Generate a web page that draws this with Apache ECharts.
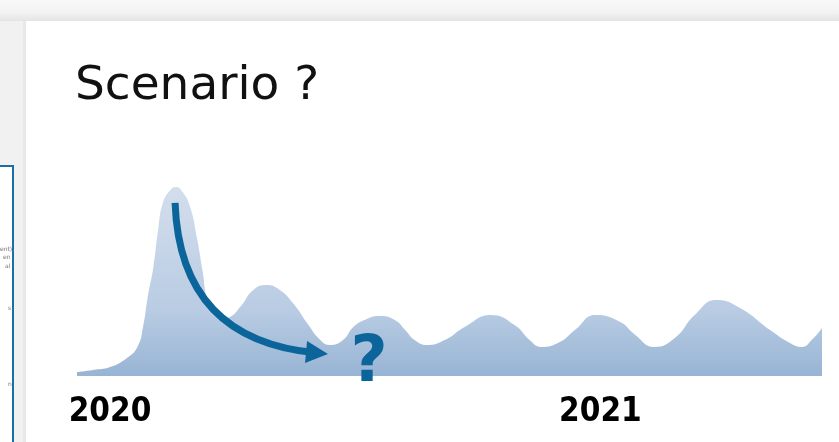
<!DOCTYPE html>
<html>
<head>
<meta charset="utf-8">
<script src="https://cdn.jsdelivr.net/npm/echarts@6/dist/echarts.min.js"></script>
<style>
html,body{margin:0;padding:0;background:#f1f1f1;}
#c{width:839px;height:442px;}
</style>
</head>
<body>
<div id="c"></div>
<script>
// x: weeks since start of chart, y: relative level (0-100)
var weeks = [0.0,1.7,3.5,5.3,6.4,7.0,7.5,8.1,8.6,9.1,9.9,10.5,11.2,12.0,12.7,13.3,13.8,14.4,15.5,16.2,17.3,18.7,20.1,21.5,22.9,24.4,25.8,26.8,28.2,29.3,30.5,32.0,33.7,34.8,35.8,37.1,39.0,41.1,43.9,46.4,48.0,49.2,51.2,52.8,55.0,57.6,59.2,61.2,63.4,65.5,67.8,70.3,73.5,75.6,76.9,77.9,79.0];
var level = [2.1,3.2,4.7,9.5,15.3,25.8,41.6,57.4,76.8,91.1,97.9,99.5,96.8,88.9,73.2,55.8,40.0,33.2,30.5,31.1,36.3,45.3,47.9,45.3,38.4,27.9,18.9,16.3,18.9,25.8,29.5,31.6,29.5,24.2,18.9,16.3,18.9,25.8,32.1,26.8,18.9,15.3,17.9,24.2,32.1,28.4,21.6,15.3,20.0,32.1,40.0,35.8,24.2,17.4,15.3,18.9,25.3];
var yearLabels = ['2020','2021'];
var yearWeeks = [3.5,55.5];
var arrowFrom = [10.4, 91.1];
var arrowTo = [25.45, 12.1];
var titleText = 'Scenario ?';
var questionText = '?';

var points = weeks.map(function(w,i){return [w, level[i]];});
var chart = echarts.init(document.getElementById('c'), null, {renderer:'canvas'});
var blue = '#0b659a';
var option = {
  animation:false,
  backgroundColor:'#f1f1f1',
  grid:{left:77,right:17,top:186,bottom:66,containLabel:false},
  xAxis:{type:'value',min:0,max:79,
    axisLine:{show:false},axisTick:{show:false},splitLine:{show:false},
    axisLabel:{customValues:yearWeeks,margin:20,
      fontFamily:'"DejaVu Sans Condensed","DejaVu Sans",sans-serif',fontWeight:'bold',fontSize:33,color:'#000',
      formatter:function(v){var i=yearWeeks.indexOf(v);return i>=0?yearLabels[i]:'';}}},
  yAxis:{type:'value',min:0,max:100,show:false},
  graphic:[
    {type:'rect',z:-10,shape:{x:0,y:0,width:839,height:442},style:{fill:'#f1f1f1'}},
    {type:'rect',z:-9,shape:{x:0,y:0,width:839,height:21},style:{fill:new echarts.graphic.LinearGradient(0,0,0,1,[{offset:0,color:'#f9f9f9'},{offset:0.6,color:'#f2f2f2'},{offset:1,color:'#e4e4e4'}])}},
    {type:'rect',z:-8,shape:{x:26,y:21,width:820,height:430},style:{fill:'#ffffff'}},
    {type:'rect',z:-8,shape:{x:23,y:21,width:3,height:430},style:{fill:'#e8e8e8'}},
    {type:'rect',z:-7,shape:{x:-10,y:166,width:23,height:300},style:{fill:'#ffffff',stroke:'#1b6ea6',lineWidth:2}},
    {type:'text',z:-6,x:0,y:246,style:{text:'ent),',font:'6px "DejaVu Sans"',fill:'#777'}},
    {type:'text',z:-6,x:3,y:254,style:{text:'en',font:'6px "DejaVu Sans"',fill:'#777'}},
    {type:'text',z:-6,x:5,y:263,style:{text:'al',font:'6px "DejaVu Sans"',fill:'#777'}},
    {type:'text',z:-6,x:8,y:305,style:{text:'s',font:'6px "DejaVu Sans"',fill:'#777'}},
    {type:'text',z:-6,x:8,y:381,style:{text:'n',font:'6px "DejaVu Sans"',fill:'#777'}},
    {type:'text',z:10,x:75,y:63,style:{text:titleText,font:'47px "DejaVu Sans"',fill:'#111',textVerticalAlign:'top'}},
    {type:'text',z:100,x:369,y:332,style:{text:questionText,font:'bold 64px "DejaVu Sans"',fill:blue,textAlign:'center',textVerticalAlign:'top'}}
  ],
  series:[
    {type:'line',data:points,smooth:0.5,showSymbol:false,silent:true,
      lineStyle:{width:0},
      areaStyle:{opacity:1,origin:'start',color:new echarts.graphic.LinearGradient(0,0,0,1,[{offset:0,color:'#d3deed'},{offset:0.65,color:'#b9cce3'},{offset:1,color:'#98b4d4'}])}},
    {type:'lines',coordinateSystem:'cartesian2d',silent:true,z:5,
      symbol:['none','triangle'],symbolSize:22,
      lineStyle:{color:blue,width:7,opacity:1,curveness:-0.44},
      data:[{coords:[arrowFrom,arrowTo]}]}
  ]
};
chart.setOption(option);
</script>
</body>
</html>
